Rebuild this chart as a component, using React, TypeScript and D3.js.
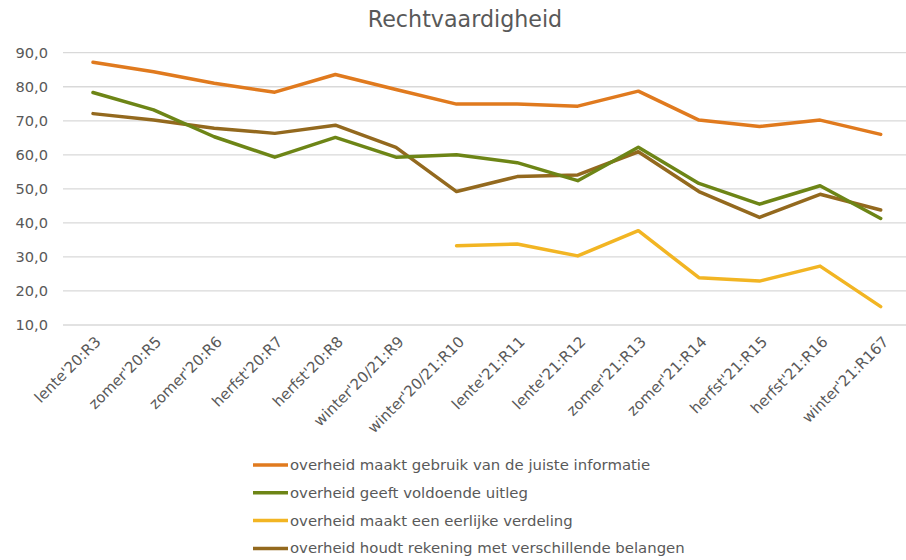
import React from "react";
import * as d3 from "d3";

const categories = [
  "lente'20:R3", "zomer'20:R5", "zomer'20:R6", "herfst'20:R7", "herfst'20:R8",
  "winter'20/21:R9", "winter'20/21:R10", "lente'21:R11", "lente'21:R12",
  "zomer'21:R13", "zomer'21:R14", "herfst'21:R15", "herfst'21:R16", "winter'21:R167",
];

const informatie = [87.2, 84.4, 81.0, 78.4, 83.6, 79.2, 74.9, 74.9, 74.3, 78.7, 70.2, 68.3, 70.2, 66.0];
const uitleg = [78.3, 73.2, 65.3, 59.3, 65.1, 59.3, 60.0, 57.7, 52.4, 62.2, 51.6, 45.5, 50.9, 41.3];
const verdeling: (number | null)[] = [null, null, null, null, null, null, 33.3, 33.8, 30.3, 37.7, 23.9, 22.9, 27.3, 15.4];
const belangen = [72.1, 70.2, 67.8, 66.3, 68.7, 62.2, 49.2, 53.6, 54.1, 60.9, 49.2, 41.6, 48.4, 43.8];

const seriesNames = [
  "overheid maakt gebruik van de juiste informatie",
  "overheid geeft voldoende uitleg",
  "overheid maakt een eerlijke verdeling",
  "overheid houdt rekening met verschillende belangen",
];
const seriesColors = ["#E07A1E", "#6D8516", "#F2B523", "#93691E"];
const yTicks = [10, 20, 30, 40, 50, 60, 70, 80, 90];

const W = 906;
const H = 560;
const FONT = "'DejaVu Sans', Verdana, sans-serif";

export default function App() {
  const x = d3.scalePoint<string>().domain(categories).range([93, 880.7]);
  const y = d3.scaleLinear().domain([10, 90]).range([325, 52.7]);
  const allSeries = [informatie, uitleg, verdeling, belangen];
  const line = d3
    .line<number | null>()
    .defined((d) => d != null)
    .x((_, i) => x(categories[i]) as number)
    .y((d) => y(d as number));

  const drawOrder = [0, 2, 3, 1];

  return (
    <div style={{ position: "absolute", left: 0, top: 0 }}>
      <svg width={W} height={H} style={{ display: "block", background: "#fff" }} fontFamily={FONT}>
        <text x={465} y={27} textAnchor="middle" fontSize={22.2} fill="#595959">
          Rechtvaardigheid
        </text>
        {yTicks.map((t) => (
          <g key={t}>
            <line x1={63} x2={906} y1={y(t)} y2={y(t)} stroke="#D9D9D9" strokeWidth={1.3} />
            <text x={48} y={y(t)} dy="0.36em" textAnchor="end" fontSize={14.6} fill="#595959">
              {d3.format(".1f")(t).replace(".", ",")}
            </text>
          </g>
        ))}
        {categories.map((c) => {
          const cx = (x(c) as number) + 5;
          const cy = 339;
          return (
            <text
              key={c}
              x={cx}
              y={cy}
              textAnchor="end"
              fontSize={15}
              fill="#595959"
              transform={`rotate(-45 ${cx} ${cy})`}
              dy="0.35em"
            >
              {c}
            </text>
          );
        })}
        {drawOrder.map((si) => (
          <path
            key={si}
            d={line(allSeries[si] as (number | null)[]) || ""}
            fill="none"
            stroke={seriesColors[si]}
            strokeWidth={3.5}
            strokeLinejoin="round"
            strokeLinecap="round"
          />
        ))}
        {seriesNames.map((n, i) => {
          const ly = 465 + i * 27.8;
          return (
            <g key={n}>
              <line x1={253} x2={288} y1={ly} y2={ly} stroke={seriesColors[i]} strokeWidth={3.5} />
              <text x={290} y={ly} dy="0.34em" fontSize={14.9} fill="#595959">
                {n}
              </text>
            </g>
          );
        })}
      </svg>
    </div>
  );
}
